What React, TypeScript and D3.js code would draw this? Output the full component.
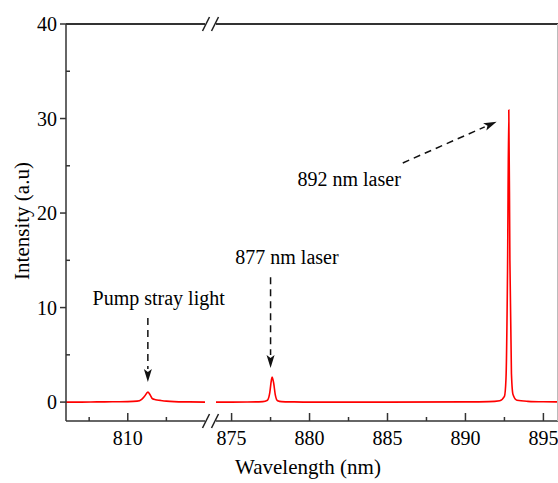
import React from 'react';
import * as d3 from 'd3';

// spectrum, pump side of the broken axis
const pumpWl = [806.0, 807.0, 808.0, 809.0, 810.0, 810.6, 810.9, 811.1, 811.3, 811.45, 811.6, 811.8, 812.1, 812.5, 813.0, 814.0, 815.0];
const pumpInt = [0.0, 0.0, 0.02, 0.03, 0.05, 0.1, 0.3, 0.65, 1.05, 0.75, 0.35, 0.25, 0.18, 0.1, 0.05, 0.02, 0.0];

// spectrum, laser side
const laserWl = [874.0, 875.0, 876.0, 877.0, 877.3, 877.45, 877.55, 877.6, 877.7, 877.8, 877.95, 878.2, 879.0, 880.0, 885.0, 890.0, 891.5, 892.2, 892.5, 892.6, 892.7, 892.78, 892.85, 892.95, 893.05, 893.3, 894.0, 895.0, 896.0];
const laserInt = [0.0, 0.0, 0.01, 0.05, 0.2, 1.0, 2.3, 2.65, 2.0, 0.8, 0.15, 0.05, 0.02, 0.0, 0.0, 0.02, 0.05, 0.15, 0.6, 2.5, 14, 30.9, 15, 3, 0.8, 0.2, 0.08, 0.03, 0.02];

const leftTicks = [810];
const leftMinor = [807.5, 812.5];
const rightTicks = [875, 880, 885, 890, 895];
const rightMinor = [877.5, 882.5, 887.5, 892.5];
const yTicks = [0, 10, 20, 30, 40];
const yMinor = [5, 15, 25, 35];

// annotations: label position and arrow (from -> to), in data units
const notes = [
  { text: 'Pump stray light', side: 'left', tx: 812.0, ty: 10.27, x1: 811.3, y1: 8.9, x2: 811.3, y2: 2.13 },
  { text: '877 nm laser', side: 'right', tx: 878.55, ty: 14.6, x1: 877.5, y1: 13.2, x2: 877.5, y2: 3.6 },
  { text: '892 nm laser', side: 'right', tx: 882.54, ty: 22.86, x1: 885.98, y1: 25.3, x2: 892.0, y2: 29.67 },
];

const W = 558;
const H = 483;
const serif = { fontFamily: "'Liberation Serif', 'Times New Roman', Times, serif" };

export default function App() {
  const xL = d3.scaleLinear().domain([806, 815]).range([66, 205]);
  const xR = d3.scaleLinear().domain([874, 896]).range([216, 559]);
  const y = d3.scaleLinear().domain([-2, 40]).range([421, 24]);
  const y0 = y(-2);
  const yTop = y(40);
  const xs = (side: string) => (side === 'left' ? xL : xR);

  const lineL = d3.line<number>().x((d) => xL(d)).y((_, i) => y(pumpInt[i])).curve(d3.curveMonotoneX);
  const lineR = d3.line<number>().x((d) => xR(d)).y((_, i) => y(laserInt[i])).curve(d3.curveMonotoneX);

  const slashes = (yy: number) =>
    [206, 215].map((c) => (
      <line key={c + '-' + yy} x1={c - 3.5} y1={yy + 7} x2={c + 3.5} y2={yy - 7} stroke="#222" strokeWidth={1.5} />
    ));

  const axisColor = '#333';

  return (
    <svg width={W} height={H} style={{ position: 'absolute', left: 0, top: 0, background: '#fff', ...serif }}>
      {/* data */}
      <path d={lineL(pumpWl) || ''} fill="none" stroke="#ff0000" strokeWidth={1.6} />
      <path d={lineR(laserWl) || ''} fill="none" stroke="#ff0000" strokeWidth={1.6} />

      {/* frame */}
      <line x1={66} y1={yTop} x2={66} y2={y0} stroke={axisColor} strokeWidth={1.5} />
      <line x1={66} y1={yTop} x2={xL(815)} y2={yTop} stroke={axisColor} strokeWidth={1.8} />
      <line x1={xR(874)} y1={yTop} x2={W} y2={yTop} stroke={axisColor} strokeWidth={1.8} />
      <line x1={66} y1={y0} x2={xL(815)} y2={y0} stroke={axisColor} strokeWidth={1.5} />
      <line x1={xR(874)} y1={y0} x2={W} y2={y0} stroke={axisColor} strokeWidth={1.5} />
      <line x1={W - 0.5} y1={yTop} x2={W - 0.5} y2={y0} stroke="#bbb" strokeWidth={1} />
      {slashes(yTop)}
      {slashes(y0)}

      {/* x ticks */}
      {leftTicks.map((t) => (
        <g key={'l' + t}>
          <line x1={xL(t)} x2={xL(t)} y1={y0} y2={y0 - 8} stroke={axisColor} strokeWidth={1.5} />
          <text x={xL(t)} y={445} textAnchor="middle" fontSize={20} style={serif}>{t}</text>
        </g>
      ))}
      {leftMinor.map((t) => (
        <line key={'lm' + t} x1={xL(t)} x2={xL(t)} y1={y0} y2={y0 - 4} stroke={axisColor} strokeWidth={1.5} />
      ))}
      {rightTicks.map((t) => (
        <g key={'r' + t}>
          <line x1={xR(t)} x2={xR(t)} y1={y0} y2={y0 - 8} stroke={axisColor} strokeWidth={1.5} />
          <text x={xR(t)} y={445} textAnchor="middle" fontSize={20} style={serif}>{t}</text>
        </g>
      ))}
      {rightMinor.map((t) => (
        <line key={'rm' + t} x1={xR(t)} x2={xR(t)} y1={y0} y2={y0 - 4} stroke={axisColor} strokeWidth={1.5} />
      ))}

      {/* y ticks */}
      {yTicks.map((t) => (
        <g key={'y' + t}>
          <line x1={60} x2={66} y1={y(t)} y2={y(t)} stroke={axisColor} strokeWidth={1.5} />
          <text x={57} y={y(t)} dy="0.35em" textAnchor="end" fontSize={20} style={serif}>{t}</text>
        </g>
      ))}
      {yMinor.map((t) => (
        <line key={'ym' + t} x1={66} x2={70} y1={y(t)} y2={y(t)} stroke={axisColor} strokeWidth={1.5} />
      ))}

      {/* axis titles */}
      <text x={308} y={474} textAnchor="middle" fontSize={21} style={serif}>Wavelength (nm)</text>
      <text transform={`translate(29,221) rotate(-90)`} textAnchor="middle" fontSize={21} style={serif}>Intensity (a.u)</text>

      {/* annotations */}
      {notes.map((n) => {
        const sx = xs(n.side);
        const ax1 = sx(n.x1);
        const ay1 = y(n.y1);
        const ax2 = sx(n.x2);
        const ay2 = y(n.y2);
        const ang = Math.atan2(ay2 - ay1, ax2 - ax1);
        const len = 13;
        const half = 4;
        const bx = ax2 - len * Math.cos(ang);
        const by = ay2 - len * Math.sin(ang);
        const px = -Math.sin(ang) * half;
        const py = Math.cos(ang) * half;
        return (
          <g key={n.text}>
            <text x={sx(n.tx)} y={y(n.ty)} textAnchor="middle" fontSize={20} style={serif}>{n.text}</text>
            <line x1={ax1} y1={ay1} x2={bx} y2={by} stroke="#111" strokeWidth={1.5} strokeDasharray="7,5" />
            <polygon points={`${ax2},${ay2} ${bx + px},${by + py} ${bx + 3 * Math.cos(ang)},${by + 3 * Math.sin(ang)} ${bx - px},${by - py}`} fill="#111" />
          </g>
        );
      })}
    </svg>
  );
}
